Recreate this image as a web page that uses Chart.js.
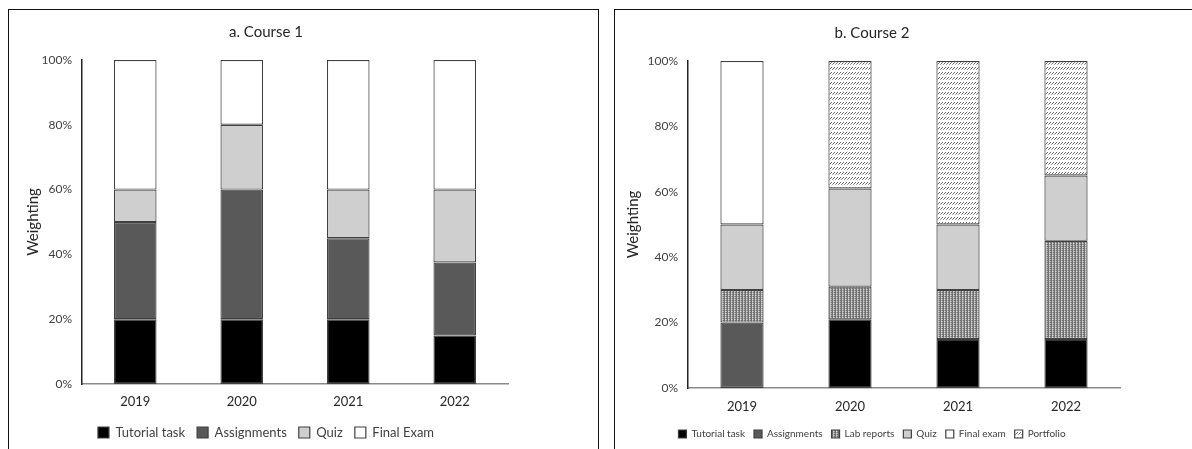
<!DOCTYPE html>
<html>
<head>
<meta charset="utf-8">
<script src="https://cdn.jsdelivr.net/npm/chart.js@4/dist/chart.umd.min.js"></script>
<style>
  html, body { margin: 0; padding: 0; background: #fff; width: 1192px; height: 449px; overflow: hidden; }
  .panel { position: absolute; border: 1.5px solid #111; border-bottom: none; background: #fff; }
  #p1 { left: 8px; top: 9px; width: 589px; height: 460px; }
  #p2 { left: 614px; top: 9px; width: 600px; height: 460px; border-right: none; }
  canvas { position: absolute; }
</style>
</head>
<body>
<div class="panel" id="p1"><canvas id="c1" width="587" height="438" style="left:1px;top:1px"></canvas></div>
<div class="panel" id="p2"><canvas id="c2" width="576" height="438" style="left:1px;top:1px"></canvas></div>
<script>
// ---- data ----
const years = ["2019", "2020", "2021", "2022"];
const yTicks = [0, 20, 40, 60, 80, 100];

const c1Tutorial    = [20, 20, 20, 15];
const c1Assignments = [30, 40, 25, 22.5];
const c1Quiz        = [10, 20, 15, 22.5];
const c1FinalExam   = [40, 20, 40, 40];

const c2Tutorial    = [0, 21, 15, 15];
const c2Assignments = [20, 0, 0, 0];
const c2LabReports  = [10, 10, 15, 30];
const c2Quiz        = [20, 30, 20, 20];
const c2FinalExam   = [50, 0, 0, 0];
const c2Portfolio   = [0, 39, 50, 35];

// ---- patterns ----
function labPattern() {
  const t = document.createElement('canvas');
  t.width = 3; t.height = 2;
  const g = t.getContext('2d');
  g.fillStyle = '#a8a8a8'; g.fillRect(0, 0, 3, 2);
  g.fillStyle = '#707070';
  g.fillRect(0, 0, 1, 2);
  g.fillRect(2, 1, 1, 1);
  g.fillStyle = '#d8d8d8';
  g.fillRect(1, 0, 1, 1);
  return g.createPattern(t, 'repeat');
}
function portfolioPattern() {
  const t = document.createElement('canvas');
  t.width = 3; t.height = 5;
  const g = t.getContext('2d');
  g.fillStyle = '#ffffff'; g.fillRect(0, 0, 3, 5);
  g.fillStyle = '#6a6a6a';
  g.fillRect(2, 1, 1, 1);
  g.fillRect(1, 2, 1, 1);
  g.fillStyle = '#a0a0a0';
  g.fillRect(0, 3, 1, 1);
  return g.createPattern(t, 'repeat');
}

const FONT = "Lato, 'Open Sans', sans-serif";
const TXT = '#404040';
const EDGE = '#404040';

function ds(label, data, color) {
  return { label, data, backgroundColor: color, borderColor: EDGE, borderWidth: 1.2, borderSkipped: false,
           categoryPercentage: 1.0, barPercentage: 0.4 };
}

function makeChart(id, title, datasets, opts) {
  return new Chart(document.getElementById(id), {
    type: 'bar',
    data: { labels: years, datasets },
    options: {
      responsive: false, animation: false,
      layout: { padding: { left: opts.padLeft, right: opts.padRight, top: 0, bottom: 0 } },
      plugins: {
        title: { display: true, text: title, color: '#262626',
                 font: { family: FONT, size: 15, weight: 'normal' },
                 padding: { top: opts.titleTop, bottom: opts.titleBottom } },
        legend: { position: 'bottom',
                  labels: { color: TXT, font: { family: FONT, size: opts.legendSize },
                            boxWidth: opts.box, boxHeight: opts.box, padding: opts.legendPad,
                            useBorderRadius: false } },
        tooltip: { enabled: false }
      },
      scales: {
        x: { stacked: true,
             afterFit: (s) => { s.height = opts.xHeight; },
             grid: { display: false, drawTicks: false },
             border: { color: '#8a8a8a', width: 1.5 },
             ticks: { color: '#262626', font: { family: FONT, size: 13 }, padding: opts.xTickPad } },
        y: { stacked: true, min: 0, max: 100,
             afterBuildTicks: (s) => { s.ticks = yTicks.map(v => ({ value: v })); },
             afterFit: (s) => { s.width = 72 - opts.padLeft; },
             grid: { display: false, drawTicks: false },
             border: { color: '#222', width: 1.5 },
             ticks: { color: TXT, font: { family: FONT, size: 12 }, padding: 10,
                      callback: (v) => v + '%' },
             title: { display: true, text: 'Weighting', color: '#262626',
                      font: { family: FONT, size: 15 }, padding: { top: 0, bottom: 0 } } }
      }
    }
  });
}

makeChart('c1', 'a. Course 1', [
  ds('Tutorial task', c1Tutorial, '#000000'),
  ds('Assignments', c1Assignments, '#595959'),
  ds('Quiz', c1Quiz, '#d0cfd0'),
  ds('Final Exam', c1FinalExam, '#ffffff')
], { padLeft: 14, padRight: 89, titleTop: 12, titleBottom: 19, legendSize: 13, box: 11, legendPad: 12, xTickPad: 10, xHeight: 30 });

makeChart('c2', 'b. Course 2', [
  ds('Tutorial task', c2Tutorial, '#000000'),
  ds('Assignments', c2Assignments, '#595959'),
  ds('Lab reports', c2LabReports, labPattern()),
  ds('Quiz', c2Quiz, '#d0cfd0'),
  ds('Final exam', c2FinalExam, '#ffffff'),
  ds('Portfolio', c2Portfolio, portfolioPattern())
], { padLeft: 8, padRight: 72, titleTop: 13, titleBottom: 19, legendSize: 10, box: 8, legendPad: 9, xTickPad: 11, xHeight: 32 });
</script>
</body>
</html>
